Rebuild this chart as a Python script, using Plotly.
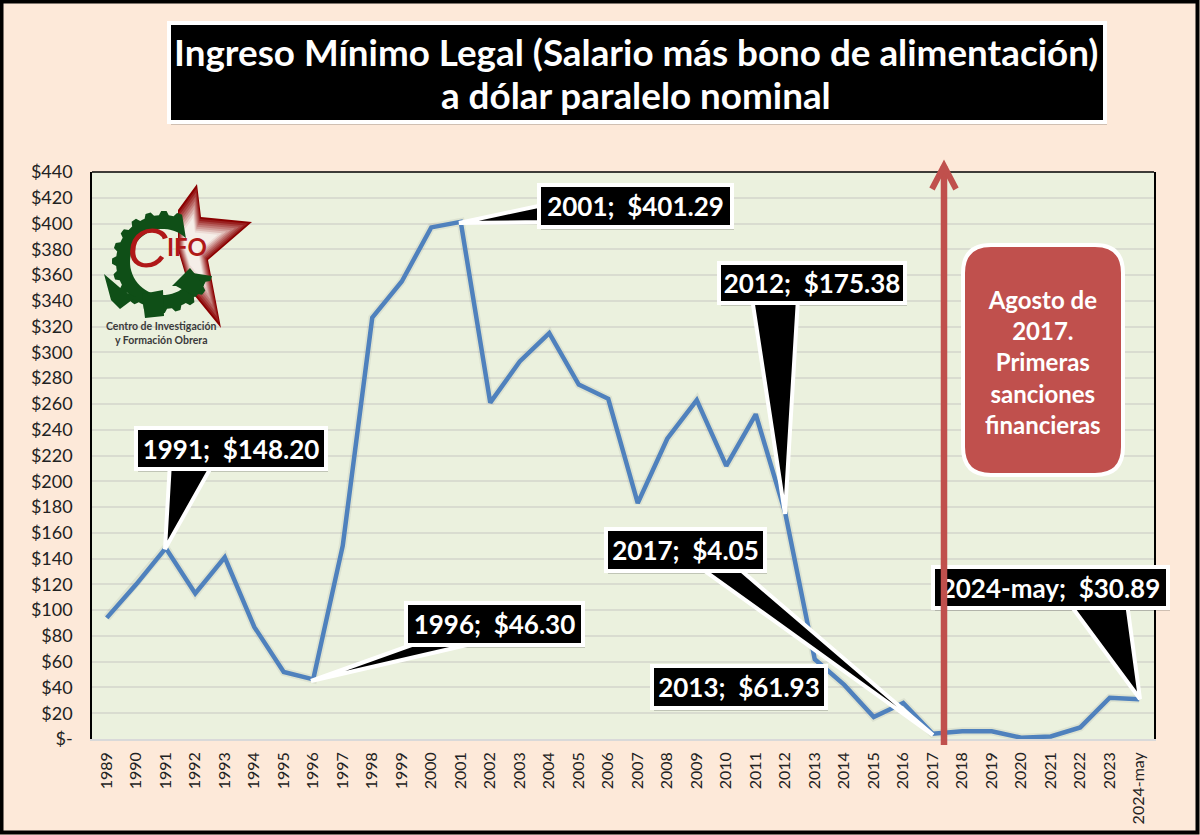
import numpy as np
import plotly.graph_objects as go

# chart data
years = [str(y) for y in range(1989, 2024)] + ["2024-may"]
salary_usd = [94, 120, 148.20, 113, 141, 87, 52, 46.30, 150, 327, 355, 397,
              401.29, 261, 293, 315, 275, 264, 183, 233, 263, 212, 252, 175.38,
              61.93, 42, 17, 28, 4.05, 6, 6, 1, 2, 9, 32, 30.89]
y_ticks = list(range(0, 441, 20))
y_labels = ["$-"] + [f"${v}" for v in y_ticks[1:]]

FONT = "Lato, 'Open Sans', sans-serif"
BG = "#FDE9D9"
PLOT_BG = "#EBF1DE"
RED = "#C0504D"
LOGO_RED = "#B01818"

# plot area in page pixels
L, R, T, B = 92, 1154, 172, 739
W, H = 1200, 835


def px(x, y):
    """Page pixels to paper coordinates."""
    return (x - L) / (R - L), (B - y) / (B - T)


def path(points, close=True):
    parts = []
    for i, (x, y) in enumerate(points):
        a, b = px(x, y)
        parts.append(f"{'M' if i == 0 else 'L'}{a:.5f},{b:.5f}")
    return " ".join(parts) + (" Z" if close else "")


def poly(points, fill, line=None, width=0, close=True):
    return dict(type="path", xref="paper", yref="paper", path=path(points, close),
                fillcolor=fill, line=dict(color=line or "rgba(0,0,0,0)", width=width),
                layer="above")


def box(x0, y0, x1, y1, fill="black", line="white", width=4, label=None, size=26):
    a0, b0 = px(x0, y1)
    a1, b1 = px(x1, y0)
    s = dict(type="rect", xref="paper", yref="paper", x0=a0, x1=a1, y0=b0, y1=b1,
             fillcolor=fill, line=dict(color=line, width=width), layer="above")
    if label:
        s["label"] = dict(text=f"<b>{label}</b>", textposition="middle center",
                          font=dict(family=FONT, size=size, color="white"))
    return s


def shadow(x0, y0, x1, y1):
    return box(x0 + 2, y0 + 3, x1 + 2, y1 + 3, fill="rgba(0,0,0,0.18)",
               line="rgba(0,0,0,0)", width=0)


def callout(x0, y0, x1, y1, text, wedge):
    shapes = [shadow(x0, y0, x1, y1)]
    if wedge:
        shapes.append(poly(wedge, "black", "white", 4))
    shapes.append(box(x0, y0, x1, y1, label=text))
    return shapes


def logo():
    shapes = []
    # star, concentric layers fake the gradient
    star = np.array([(197, 184), (201, 217), (252, 222), (208, 260), (221, 328),
                     (190, 290), (178, 250), (178, 210)], dtype=float)
    centre = np.array([190, 245])
    dark, light = np.array([139, 0, 0]), np.array([245, 238, 232])
    for k in np.linspace(1, 0.1, 14):
        c = dark + (light - dark) * min(1, (1 - k) * 1.9)
        pts = centre + (star - centre) * k
        shapes.append(poly(pts.tolist(), f"rgb({c[0]:.0f},{c[1]:.0f},{c[2]:.0f})"))
    # gear ring with teeth, open on the right
    green = "#0F4F17"
    cx, cy = 163, 262
    outer = []
    for a in np.arange(68, 345, 3.0):
        tooth = int((a - 68) // 9) % 2 == 0
        r = 51 if tooth else 47
        outer.append((cx + r * np.cos(np.radians(a)), cy - r * np.sin(np.radians(a))))
    inner = [(cx + 33 * np.cos(np.radians(a)), cy - 33 * np.sin(np.radians(a)))
             for a in np.arange(340, 40, -6.0)]
    shapes.append(poly(outer + inner, green))
    shapes.append(poly([(142, 294), (163, 290), (164, 316), (145, 318)], green))
    shapes.append(poly([(104, 274), (125, 292), (136, 297), (120, 309), (111, 300)], green))
    shapes.append(poly([(172, 286), (190, 268), (204, 285), (196, 297), (176, 286)], green))
    return shapes


fig = go.Figure()

fig.add_trace(go.Scatter(
    x=years, y=salary_usd, mode="lines",
    line=dict(color="rgba(60,60,60,0.08)", width=8),
    hoverinfo="skip", showlegend=False,
))
fig.add_trace(go.Scatter(
    x=years, y=salary_usd, mode="lines",
    line=dict(color="#4F81BD", width=4.5),
    showlegend=False,
))

shapes = []
# page border and top of the plot frame
shapes.append(dict(type="rect", xref="paper", yref="paper",
                   x0=px(1.5, 0)[0], x1=px(W - 2.5, 0)[0],
                   y0=px(0, H - 2.5)[1], y1=px(0, 1.5)[1],
                   line=dict(color="black", width=4), layer="above"))
shapes.append(dict(type="line", xref="paper", yref="paper", x0=0, x1=1, y0=1, y1=1,
                   line=dict(color="black", width=1.5), layer="above"))
shapes += logo()

# title
shapes.append(shadow(169, 23, 1105, 122))
shapes.append(box(169, 23, 1105, 122))

# callouts, tips sit on the data points
shapes += callout(136, 428, 326, 469, "1991;  $148.20", [(170, 462), (165, 549), (214, 462)])
shapes += callout(406, 603, 583, 645, "1996;  $46.30", [(420, 642), (311, 681), (480, 642)])
shapes += callout(539, 185, 732, 227, "2001;  $401.29", [(543, 205), (459, 223), (543, 222)])
shapes += callout(719, 263, 905, 303, "2012;  $175.38", [(752, 298), (785, 514), (798, 298)])
shapes += callout(606, 529, 765, 571, "2017;  $4.05", [(698, 566), (933, 735), (736, 566)])
shapes += callout(652, 666, 826, 708, "2013;  $61.93", None)
shapes += callout(933, 567, 1168, 608, "2024-may;  $30.89", [(1069, 603), (1140, 699), (1127, 603)])

# sanctions arrow goes over the 2024 box
shapes.append(poly([(944, 745), (944, 166)], "rgba(0,0,0,0)", RED, 6.5, close=False))
shapes.append(poly([(932, 189), (944, 166), (956, 189)], "rgba(0,0,0,0)", RED, 6, close=False))

# rounded red box
x0, y0 = px(963, 475)
x1, y1 = px(1123, 245)
rx, ry = 28 / (R - L), 28 / (B - T)
rounded = (f"M{x0 + rx},{y0} L{x1 - rx},{y0} Q{x1},{y0} {x1},{y0 + ry} "
           f"L{x1},{y1 - ry} Q{x1},{y1} {x1 - rx},{y1} L{x0 + rx},{y1} "
           f"Q{x0},{y1} {x0},{y1 - ry} L{x0},{y0 + ry} Q{x0},{y0} {x0 + rx},{y0} Z")
shapes.append(dict(type="path", xref="paper", yref="paper", path=rounded, fillcolor=RED,
                   line=dict(color="white", width=4), layer="above"))

annotations = []


def text(x, y, s, size, color="white", family=FONT):
    a, b = px(x, y)
    annotations.append(dict(xref="paper", yref="paper", x=a, y=b, text=s, showarrow=False,
                            xanchor="center", yanchor="middle",
                            font=dict(family=family, size=size, color=color)))


text(636, 52, "<b>Ingreso Mínimo Legal (Salario más bono de alimentación)</b>", 36.8)
text(636, 95, "<b>a dólar paralelo nominal</b>", 36.8)
text(1043, 362, "<b>Agosto de<br>2017.<br>Primeras<br>sanciones<br>financieras</b>", 24)
text(147, 247, "<i>C</i>", 56, color=LOGO_RED, family="'Liberation Sans', sans-serif")
text(187, 246, "<b>IFO</b>", 24, color=LOGO_RED)
text(161, 326, "<b>Centro de Investigación</b>", 10.5, color="#3A3A3A")
text(161, 340, "<b>y Formación Obrera</b>", 10.5, color="#3A3A3A")

fig.update_layout(
    width=W, height=H,
    margin=dict(l=L, r=W - R, t=T, b=H - B),
    paper_bgcolor=BG,
    plot_bgcolor=PLOT_BG,
    font=dict(family=FONT, color="#222222"),
    showlegend=False,
    shapes=shapes,
    annotations=annotations,
    xaxis=dict(type="category", categoryorder="array", categoryarray=years,
               range=[-0.5, len(years) - 0.5], automargin=False,
               tickangle=-90, tickfont=dict(size=16), showgrid=False, ticks="",
               ticklabelstandoff=5, showline=True, linecolor="#D9D9D9", linewidth=1.5),
    yaxis=dict(range=[0, 440], tickvals=y_ticks, ticktext=y_labels, automargin=False,
               tickfont=dict(size=18), gridcolor="#D9DCD0", gridwidth=1.5, ticks="",
               ticklabelstandoff=14, zeroline=False, showline=True, linecolor="black",
               linewidth=1.5, mirror=True),
)

fig.write_html("out.html", config=dict(displayModeBar=False),
               post_script="document.body.style.margin='0';")
